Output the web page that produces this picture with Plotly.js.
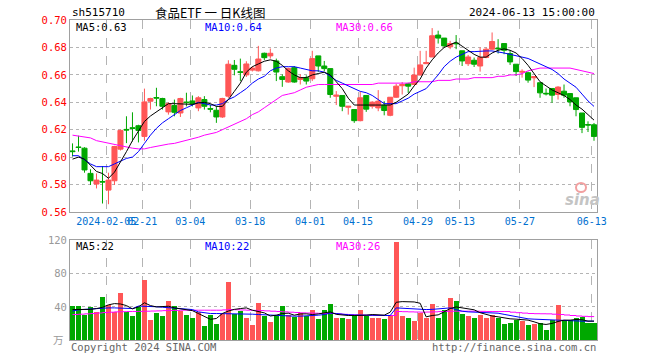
<!DOCTYPE html>
<html><head><meta charset="utf-8">
<script src="https://cdn.plot.ly/plotly-3.0.1.min.js"></script>
<style>html,body{margin:0;padding:0;background:#fff}#chart{width:660px;height:360px}</style>
</head><body><div id="chart"></div>
<script>
// ---- data ----
const openP = [0.6045,0.6074,0.6065,0.5881,0.5803,0.5822,0.5759,0.5827,0.6058,0.6202,
0.6214,0.6229,0.6151,0.6408,0.6435,0.6428,0.6330,0.6376,0.6322,0.6402,
0.6410,0.6359,0.6420,0.6354,0.6342,0.6293,0.6445,0.6670,0.6623,0.6600,
0.6635,0.6630,0.6758,0.6739,0.6702,0.6587,0.6548,0.6653,0.6567,0.6580,
0.6572,0.6739,0.6665,0.6646,0.6444,0.6450,0.6364,0.6347,0.6266,0.6450,
0.6371,0.6359,0.6379,0.6305,0.6437,0.6521,0.6535,0.6530,0.6599,0.6682,
0.6731,0.6891,0.6869,0.6805,0.6832,0.6776,0.6682,0.6707,0.6665,0.6727,
0.6788,0.6795,0.6829,0.6756,0.6678,0.6620,0.6616,0.6579,0.6543,0.6466,
0.6501,0.6457,0.6481,0.6464,0.6433,0.6322,0.6238,0.6236];
const highP = [0.6100,0.6156,0.6072,0.5911,0.5881,0.5935,0.5886,0.6082,0.6200,0.6298,
0.6327,0.6236,0.6500,0.6433,0.6506,0.6433,0.6400,0.6420,0.6433,0.6470,
0.6450,0.6445,0.6445,0.6383,0.6371,0.6433,0.6707,0.6709,0.6719,0.6700,
0.6662,0.6812,0.6763,0.6793,0.6719,0.6604,0.6653,0.6665,0.6604,0.6597,
0.6776,0.6739,0.6702,0.6646,0.6482,0.6452,0.6371,0.6347,0.6477,0.6450,
0.6408,0.6489,0.6408,0.6437,0.6535,0.6548,0.6543,0.6653,0.6776,0.6776,
0.6942,0.6923,0.6869,0.6849,0.6891,0.6776,0.6746,0.6727,0.6800,0.6800,
0.6910,0.6861,0.6829,0.6780,0.6678,0.6641,0.6624,0.6592,0.6543,0.6501,
0.6501,0.6518,0.6530,0.6464,0.6433,0.6322,0.6261,0.6249];
const lowP = [0.6004,0.6040,0.5886,0.5796,0.5771,0.5661,0.5656,0.5796,0.6048,0.6102,
0.6114,0.6107,0.6119,0.6347,0.6371,0.6347,0.6310,0.6298,0.6293,0.6370,
0.6370,0.6335,0.6347,0.6327,0.6250,0.6286,0.6433,0.6597,0.6555,0.6585,
0.6625,0.6625,0.6709,0.6719,0.6555,0.6513,0.6543,0.6543,0.6530,0.6530,
0.6555,0.6621,0.6628,0.6433,0.6380,0.6335,0.6310,0.6250,0.6261,0.6330,
0.6354,0.6335,0.6305,0.6298,0.6433,0.6457,0.6469,0.6526,0.6597,0.6682,
0.6731,0.6829,0.6800,0.6788,0.6788,0.6665,0.6665,0.6658,0.6624,0.6722,
0.6783,0.6756,0.6751,0.6673,0.6592,0.6580,0.6543,0.6511,0.6433,0.6450,
0.6396,0.6420,0.6433,0.6371,0.6298,0.6175,0.6183,0.6119];
const closeP = [0.6040,0.6070,0.5906,0.5827,0.5832,0.5818,0.5832,0.6077,0.6195,0.6198,
0.6210,0.6195,0.6403,0.6428,0.6431,0.6371,0.6390,0.6327,0.6428,0.6398,
0.6390,0.6433,0.6371,0.6350,0.6293,0.6428,0.6678,0.6641,0.6619,0.6680,
0.6650,0.6716,0.6726,0.6758,0.6621,0.6567,0.6646,0.6548,0.6580,0.6555,
0.6719,0.6665,0.6646,0.6457,0.6452,0.6371,0.6371,0.6266,0.6433,0.6350,
0.6401,0.6408,0.6340,0.6437,0.6518,0.6530,0.6518,0.6599,0.6673,0.6690,
0.6886,0.6869,0.6812,0.6829,0.6828,0.6702,0.6731,0.6678,0.6727,0.6788,
0.6844,0.6791,0.6780,0.6695,0.6624,0.6626,0.6562,0.6587,0.6469,0.6462,
0.6452,0.6511,0.6452,0.6403,0.6347,0.6217,0.6234,0.6151];
const volume = [40.8,40.8,30.8,39.6,34.4,51.6,42.8,33.6,56.4,33.6,
29.6,39.6,72,24,32.4,29.6,46.8,40.8,34.8,30.8,
26.4,34.4,16.8,30.4,18.8,32,69.6,31.6,34.8,26.4,
17.6,44.4,29.6,21.6,30.8,40.8,30.8,27.6,32.8,29.6,
36.8,24.8,36,44,26,27.2,24.8,30.4,36.8,29.6,
27.2,27.2,24.8,30,118.4,29.6,27.2,22.4,32.8,27.2,
44,27.2,36.8,51.2,47.6,31.2,29.6,27.2,30.4,27.2,
30.4,27.2,18.8,20.8,24,22.4,17.6,18.8,20.8,11.6,
24,42.8,23.6,23.6,26,28,20,20];
const ma5 = [0.5985,0.600,0.5985,0.594,0.5895,0.588,0.5845,0.589,0.596,0.604,
0.612,0.619,0.626,0.630,0.633,0.636,0.639,0.639,0.639,0.639,
0.6385,0.6395,0.640,0.639,0.637,0.637,0.642,0.648,0.654,0.662,
0.666,0.668,0.670,0.671,0.670,0.667,0.663,0.660,0.658,0.658,
0.660,0.661,0.662,0.660,0.655,0.650,0.643,0.638,0.638,0.638,
0.638,0.638,0.638,0.638,0.640,0.643,0.646,0.652,0.657,0.665,
0.671,0.676,0.680,0.682,0.684,0.681,0.678,0.675,0.673,0.673,
0.676,0.678,0.679,0.678,0.676,0.672,0.667,0.661,0.655,0.652,
0.649,0.647,0.645,0.642,0.638,0.635,0.631,0.627];
const ma10 = [0.601,0.601,0.598,0.595,0.593,0.593,0.593,0.595,0.597,0.599,
0.600,0.604,0.610,0.616,0.621,0.625,0.628,0.631,0.634,0.636,
0.638,0.640,0.639,0.638,0.638,0.639,0.642,0.644,0.647,0.650,
0.654,0.657,0.659,0.663,0.665,0.666,0.666,0.666,0.665,0.664,
0.663,0.663,0.662,0.659,0.656,0.654,0.652,0.650,0.648,0.647,
0.645,0.642,0.639,0.639,0.639,0.641,0.643,0.646,0.648,0.650,
0.655,0.660,0.666,0.670,0.673,0.675,0.677,0.677,0.6775,0.6775,
0.6775,0.677,0.676,0.675,0.674,0.673,0.672,0.670,0.668,0.666,
0.664,0.661,0.657,0.654,0.651,0.646,0.641,0.637];
const ma30 = [0.616,0.6155,0.615,0.614,0.612,0.611,0.610,0.609,0.608,0.607,
0.6065,0.606,0.606,0.607,0.608,0.609,0.6095,0.610,0.611,0.612,
0.613,0.6145,0.616,0.617,0.618,0.620,0.622,0.624,0.626,0.628,
0.631,0.633,0.636,0.639,0.642,0.645,0.646,0.647,0.649,0.651,
0.652,0.653,0.653,0.653,0.653,0.653,0.653,0.653,0.653,0.653,
0.653,0.654,0.654,0.654,0.654,0.654,0.654,0.655,0.655,0.655,
0.655,0.656,0.656,0.656,0.657,0.657,0.657,0.658,0.658,0.658,
0.658,0.659,0.659,0.660,0.660,0.661,0.663,0.664,0.665,0.665,
0.665,0.665,0.665,0.665,0.664,0.663,0.662,0.661];
const vma5 = [36.8,36.8,36.8,37,38,39.5,42.5,44,43.5,41.6,
37.6,40,45,41.6,40,40.4,40.8,38.8,37.6,36.8,
35.5,32,28,25,26,32,35,37,38,38.8,
36,34.5,32.8,29,30,32,32.4,30,31.5,31.6,
30.8,31.5,32.8,34,31,30,29.6,29.6,29.6,30,
30.8,30.4,30,33.6,45.6,46.4,46.4,46,44.4,28,
29.6,30.4,34,38,40,38.8,38,36.5,33,31,
29,28,26.5,25.6,25.2,24.8,24,22,19.6,18.8,
20,22.4,24,24,24.8,24.5,22.8,22.8];
const vma10 = [35,36.5,37,37.5,38.2,38.5,38.8,38.8,38.8,38.8,
38,41,41,40.6,40.2,39.6,39,38,37.5,37,
36.8,34,33,32,32,32,32,32,31.8,31.6,
31.2,30.8,30.4,29.6,29.4,29.2,29,28.8,28.8,29,
29.6,30,30.8,32.5,32,31,30.5,30.2,30,29.8,
29.6,29.6,29.6,29.6,38.8,38.4,37.6,37.2,36.8,36.8,
37,37.6,38.4,38.8,36.8,34.8,34,33.6,33.6,33.6,
33,32.4,31,29.5,28,27,25.6,25.2,24.8,24.4,
24,23.6,23.2,22.8,22.8,22.8,22.8,22.8];
const vma30 = [30.8,31.2,31.6,32,32.6,33.2,33.6,34,34.2,34.4,
34.5,34.6,34.8,35,35.2,35.5,35.7,35.8,36,36,
36,36,36,36,36,36.4,36.8,36.6,36.3,36,
35.8,35.6,35.2,34.8,34.4,34,33.6,33.2,32.8,32.6,
32.4,32.2,32,32,31.5,31,30.6,30.3,30,29.9,
29.8,29.7,29.6,29.6,34.4,34.2,34,33.8,33.6,33.8,
34,34.4,34.6,34.8,34.8,34.8,34.8,34.8,34.6,34.4,
34.4,34.4,34.4,33.6,33,32.5,32,31.8,31.7,31.6,
31.2,30.8,30.2,29.6,29,28.6,28.3,28];
const tickIdx = [6,12,20,30,40,48,58,65,75,87];
const tickLabels = ['2024-02-05','02-21','03-04','03-18','04-01','04-15','04-29','05-13','05-27','06-13'];
const priceTicks = [0.56,0.58,0.60,0.62,0.64,0.66,0.68,0.70];
const priceTickText = ['0.56','0.58','0.60','0.62','0.64','0.66','0.68','0.70'];
const volTicks = [40,80,120];

// ---- drawing ----
const RED = '#ff5656', GREEN = '#00a800';
const W = 660, H = 360, ML = 70, MR = 63, MT = 20, MB = 20;
const fx = px => (px - ML) / (W - ML - MR);
const fy = py => (H - MB - py) / (H - MT - MB);
const idx = volume.map((_, i) => i);
const gridPos = tickIdx.map(i => i - 0.37);
const volColors = closeP.map((c, i) => c > openP[i] ? RED : GREEN);
const MONO = 'DejaVu Sans Mono, monospace';

const traces = [
  {type: 'candlestick', x: idx, open: openP, high: highP, low: lowP, close: closeP,
   xaxis: 'x', yaxis: 'y', whiskerwidth: 0,
   increasing: {line: {color: RED, width: 1}, fillcolor: RED},
   decreasing: {line: {color: GREEN, width: 1}, fillcolor: GREEN},
   hoverinfo: 'skip', showlegend: false},
  {type: 'scatter', mode: 'lines', x: idx, y: ma30, xaxis: 'x', yaxis: 'y', line: {color: '#ff00ff', width: 1}, hoverinfo: 'skip', showlegend: false},
  {type: 'scatter', mode: 'lines', x: idx, y: ma10, xaxis: 'x', yaxis: 'y', line: {color: '#0000ff', width: 1}, hoverinfo: 'skip', showlegend: false},
  {type: 'scatter', mode: 'lines', x: idx, y: ma5, xaxis: 'x', yaxis: 'y', line: {color: '#000000', width: 1}, hoverinfo: 'skip', showlegend: false},
  {type: 'bar', x: idx, y: volume, xaxis: 'x2', yaxis: 'y2', width: 0.84,
   marker: {color: volColors, line: {width: 0}}, hoverinfo: 'skip', showlegend: false},
  {type: 'scatter', mode: 'lines', x: idx, y: vma30, xaxis: 'x2', yaxis: 'y2', line: {color: '#ff00ff', width: 1, shape: 'hv'}, hoverinfo: 'skip', showlegend: false},
  {type: 'scatter', mode: 'lines', x: idx, y: vma10, xaxis: 'x2', yaxis: 'y2', line: {color: '#0000ff', width: 1}, hoverinfo: 'skip', showlegend: false},
  {type: 'scatter', mode: 'lines', x: idx, y: vma5, xaxis: 'x2', yaxis: 'y2', line: {color: '#000000', width: 1}, hoverinfo: 'skip', showlegend: false}
];

const xRange = [-0.42, 87.5];
const ann = (x, y, text, color, size, xanchor, extra) => Object.assign({
  xref: 'paper', yref: 'paper', x: fx(x), y: fy(y), text: text, showarrow: false,
  xanchor: xanchor || 'left', yanchor: 'middle', font: {family: MONO, size: size || 10.5, color: color}
}, extra || {});

const layout = {
  width: W, height: H, margin: {l: ML, r: MR, t: MT, b: MB},
  paper_bgcolor: '#ffffff', plot_bgcolor: '#ffffff',
  boxgap: 0.16, boxgroupgap: 0, bargap: 0,
  showlegend: false, hovermode: false,
  xaxis: {domain: [0, 1], anchor: 'y', range: xRange, rangeslider: {visible: false},
    tickmode: 'array', tickvals: gridPos, ticktext: tickLabels, tickangle: 0,
    tickfont: {family: MONO, size: 10, color: '#0070d0'}, ticks: '',
    showgrid: true, gridcolor: '#b4b4b4', griddash: 'dash', gridwidth: 1,
    showline: true, linecolor: '#a0a0a0', mirror: true, zeroline: false, fixedrange: true},
  yaxis: {domain: [0.4, 1], anchor: 'x', range: [0.5599, 0.7001],
    tickmode: 'array', tickvals: priceTicks, ticktext: priceTickText,
    tickfont: {family: MONO, size: 10.5, color: '#ff0000'}, ticks: '',
    showgrid: true, gridcolor: '#b4b4b4', griddash: 'dot', gridwidth: 1,
    showline: true, linecolor: '#a0a0a0', mirror: true, zeroline: false, fixedrange: true},
  xaxis2: {domain: [0, 1], anchor: 'y2', range: xRange, matches: 'x',
    tickmode: 'array', tickvals: gridPos, showticklabels: false, ticks: '',
    showgrid: true, gridcolor: '#b4b4b4', griddash: 'dash', gridwidth: 1,
    showline: true, linecolor: '#a0a0a0', mirror: true, zeroline: false, fixedrange: true},
  yaxis2: {domain: [0, fy(240.3)], anchor: 'x2', range: [0, 120.5],
    tickmode: 'array', tickvals: volTicks, ticktext: volTicks.map(String),
    tickfont: {family: MONO, size: 10.5, color: '#999999'}, ticks: '',
    showgrid: true, gridcolor: '#b4b4b4', griddash: 'dot', gridwidth: 1,
    showline: true, linecolor: '#a0a0a0', mirror: true, zeroline: false, fixedrange: true},
  annotations: [
    ann(70, 12, 'sh515710', '#000000', 11),
    ann(210, 12, '食品ETF 一 日K线图', '#000000', 12.5, 'center', {font: {family: 'Noto Sans CJK SC, DejaVu Sans Mono', size: 12.5, color: '#000'}}),
    ann(597, 12, '2024-06-13 15:00:00', '#000000', 11, 'right'),
    ann(74, 27, 'MA5:0.63', '#000000', 10.5),
    ann(203, 27, 'MA10:0.64', '#0000ff', 10.5),
    ann(334, 27, 'MA30:0.66', '#ff00ff', 10.5),
    ann(74, 246, 'MA5:22', '#000000', 10.5),
    ann(203, 246, 'MA10:22', '#0000ff', 10.5),
    ann(334, 246, 'MA30:26', '#ff00ff', 10.5),
    ann(66, 339, '万', '#999999', 10.5, 'right', {font: {family: 'Noto Sans CJK SC', size: 10.5, color: '#999'}}),
    ann(69, 347, 'Copyright 2024 SINA.COM', '#666666', 10.5),
    ann(598, 347, 'http://finance.sina.com.cn', '#666666', 10.5, 'right'),
    ann(582, 200, '<b><i>sina</i></b>', '#c0c0c0', 15, 'center', {font: {family: 'DejaVu Sans', size: 15, color: '#c4c4c4'}})
  ],
  shapes: [
    {type: 'circle', xref: 'paper', yref: 'paper', x0: fx(576), x1: fx(586), y0: fy(192), y1: fy(183),
     line: {color: '#f2a0a0', width: 2}, fillcolor: 'rgba(0,0,0,0)'}
  ]
};

Plotly.newPlot('chart', traces, layout, {staticPlot: true, displayModeBar: false});
</script>
</body></html>
